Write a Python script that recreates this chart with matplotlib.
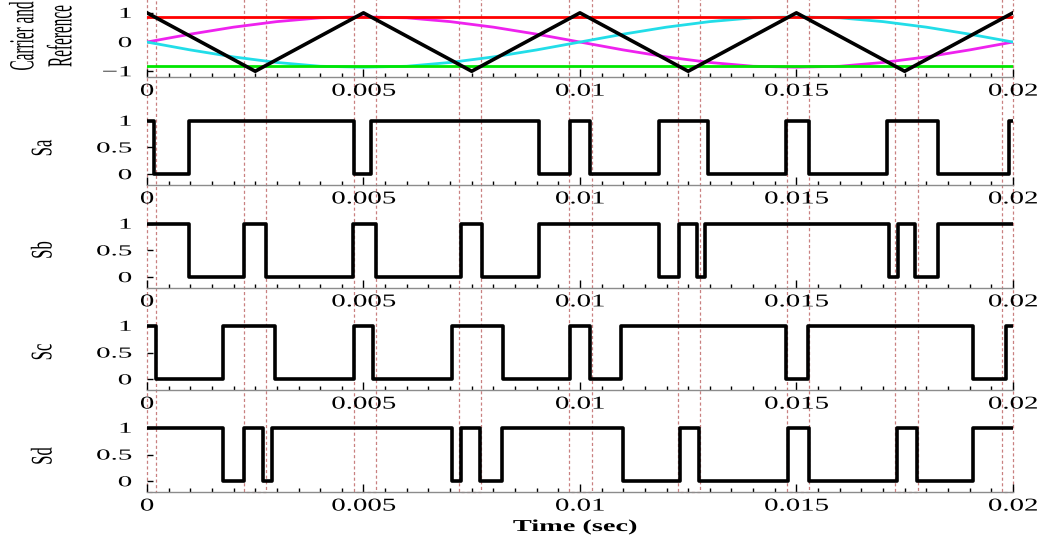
import numpy as np
import matplotlib
matplotlib.use("Agg")
import matplotlib.pyplot as plt
from matplotlib import patheffects
from matplotlib.transforms import Affine2D

# carrier: triangle vertices (sec, value)
carrier_t = [0.0, 0.0025, 0.005, 0.0075, 0.01, 0.0125, 0.015, 0.0175, 0.02]
carrier_v = [1, -1, 1, -1, 1, -1, 1, -1, 1]

# sinusoidal references sampled every 1 ms
ref_t = [0.000, 0.001, 0.002, 0.003, 0.004, 0.005, 0.006, 0.007, 0.008, 0.009, 0.010,
         0.011, 0.012, 0.013, 0.014, 0.015, 0.016, 0.017, 0.018, 0.019, 0.020]
ref_a = [0.0, 0.27, 0.51, 0.70, 0.83, 0.86, 0.83, 0.70, 0.51, 0.27, 0.0,
         -0.27, -0.51, -0.70, -0.83, -0.86, -0.83, -0.70, -0.51, -0.27, 0.0]
ref_b = [0.0, -0.27, -0.51, -0.70, -0.83, -0.86, -0.83, -0.70, -0.51, -0.27, 0.0,
         0.27, 0.51, 0.70, 0.83, 0.86, 0.83, 0.70, 0.51, 0.27, 0.0]
dc_high = 0.85
dc_low = -0.83

# switching instants (sec); every signal starts at 1 and toggles at each instant
sa_edges = [0.00017, 0.00097, 0.00477, 0.00517, 0.00906, 0.00977, 0.01024, 0.01182,
            0.01296, 0.01477, 0.0153, 0.0171, 0.01828, 0.0199]
sb_edges = [0.00098, 0.00225, 0.00274, 0.00475, 0.00528, 0.00725, 0.00773, 0.00906,
            0.01182, 0.01228, 0.0127, 0.0129, 0.01713, 0.01734, 0.01773, 0.01828]
sc_edges = [0.0002, 0.00175, 0.00295, 0.00479, 0.00521, 0.00705, 0.00823, 0.00977,
            0.01023, 0.01096, 0.01477, 0.01526, 0.01907, 0.01983]
sd_edges = [0.00175, 0.00225, 0.00267, 0.00288, 0.00705, 0.00725, 0.0077, 0.0082,
            0.01099, 0.0123, 0.01276, 0.0148, 0.01529, 0.01732, 0.01778, 0.01907]
sig_names = ["Sa", "Sb", "Sc", "Sd"]
sig_edges = [sa_edges, sb_edges, sc_edges, sd_edges]

# dotted marker windows around the carrier extremes
marks = [(0.0, 0.0002), (0.00225, 0.00275), (0.00478, 0.0053), (0.0072, 0.00772),
         (0.00975, 0.01027), (0.01226, 0.01278), (0.01478, 0.0153), (0.01727, 0.0178),
         (0.01975, 0.02)]

xticks = [0, 0.005, 0.01, 0.015, 0.02]
xticklabels = ["0", "0.005", "0.01", "0.015", "0.02"]

SERIF = "Liberation Serif"


class Widen(patheffects.AbstractPathEffect):
    """Draw text stretched horizontally around an anchor."""

    def __init__(self, sx, anchor="center"):
        super().__init__()
        self.sx = sx
        self.anchor = anchor

    def draw_path(self, renderer, gc, tpath, affine, rgbFace=None):
        bb = tpath.get_extents(affine)
        if self.anchor == "right":
            x0 = bb.x1
        elif self.anchor == "left":
            x0 = bb.x0
        else:
            x0 = 0.5 * (bb.x0 + bb.x1)
        aff = affine + Affine2D().translate(-x0, 0).scale(self.sx, 1).translate(x0, 0)
        renderer.draw_path(gc, tpath, aff, rgbFace)


def style_axes(ax, yticks, ylabels, ylim):
    ax.set_xlim(0, 0.02)
    ax.set_ylim(*ylim)
    ax.patch.set_alpha(0)
    for s in ["top", "right", "left"]:
        ax.spines[s].set_visible(False)
    ax.spines["bottom"].set_color("#8c8c8c")
    ax.spines["bottom"].set_linewidth(1.0)
    ax.set_xticks(xticks, xticklabels)
    ax.set_xticks(np.arange(0, 0.0201, 0.0005), minor=True)
    ax.set_yticks(yticks, ylabels)
    ax.tick_params(axis="x", which="major", direction="in", length=6, width=1,
                   pad=4, labelsize=13)
    ax.tick_params(axis="x", which="minor", direction="in", length=3, width=1)
    ax.tick_params(axis="y", direction="in", length=4, width=1, pad=11, labelsize=11)
    for lab in ax.get_xticklabels():
        lab.set_fontfamily(SERIF)
        lab.set_path_effects([Widen(1.6)])
    for lab in ax.get_yticklabels():
        lab.set_fontfamily(SERIF)
        lab.set_path_effects([Widen(1.9, "right")])


fig = plt.figure(figsize=(10.47, 5.39), dpi=100)
left, width = 0.1404, 0.827

# marker windows behind the traces
ov = fig.add_axes([left, 0.0872, width, 0.9128], zorder=0)
ov.set_xlim(0, 0.02)
ov.set_ylim(0, 1)
ov.axis("off")
for a, b in marks:
    ov.plot([a, a, b, b], [1.02, 0, 0, 1.02], color="#c98080", lw=0.9,
            ls=(0, (2.5, 2)), clip_on=False)

# carrier and references
ax0 = fig.add_axes([left, 0.857, width, 0.130], zorder=1)
ax0.plot(ref_t, ref_a, color="#ee22ee", lw=2)
ax0.plot(ref_t, ref_b, color="#22dde8", lw=2)
ax0.plot([0, 0.02], [dc_high, dc_high], color="#ff0000", lw=2)
ax0.plot([0, 0.02], [dc_low, dc_low], color="#00e600", lw=2)
ax0.plot(carrier_t, carrier_v, color="black", lw=2.6)
style_axes(ax0, [1, 0, -1], ["1", "0", "\u22121"], (-1.2, 1.2))

# switching signals
bottoms = [0.657, 0.466, 0.2764, 0.0872]
centers_px = [148, 250, 352, 456]
for name, edges, bot, cy in zip(sig_names, sig_edges, bottoms, centers_px):
    ax = fig.add_axes([left, bot, width, 0.139], zorder=1)
    times = [0.0] + edges + [0.02]
    levels = [1 - i % 2 for i in range(len(edges) + 1)]
    levels = levels + [levels[-1]]
    ax.step(times, levels, where="post", color="black", lw=2.6)
    style_axes(ax, [1, 0.5, 0], ["1", "0.5", "0"], (-0.2, 1.2))
    fig.text(43 / 1047, 1 - cy / 539, name, rotation=90, ha="center", va="center",
             fontsize=12, family=SERIF, path_effects=[Widen(1.8)])

fig.text(23 / 1047, 1 - 36 / 539, "Carrier and", rotation=90, ha="center",
         va="center", fontsize=11, family=SERIF, path_effects=[Widen(2.3)])
fig.text(61 / 1047, 1 - 36 / 539, "Reference", rotation=90, ha="center",
         va="center", fontsize=11, family=SERIF, path_effects=[Widen(2.3)])
fig.text(575 / 1047, 1 - 527 / 539, "Time (sec)", ha="center", va="center",
         fontsize=12, family=SERIF, fontweight="bold", path_effects=[Widen(1.7)])

fig.savefig("out.png", dpi=100)
